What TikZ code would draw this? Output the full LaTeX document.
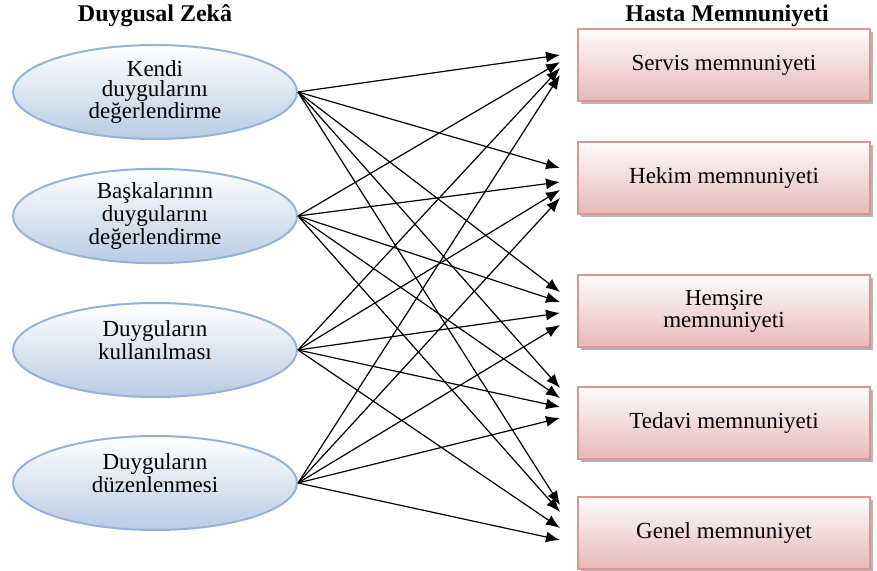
\documentclass[tikz,border=0pt]{standalone}
\usepackage{fontspec}
\setmainfont{Liberation Serif}
\usepackage{xcolor}
\usetikzlibrary{arrows.meta,calc,positioning,shapes.geometric,shadows}
\definecolor{elfill}{HTML}{B8CCE4}
\definecolor{eldraw}{HTML}{95B3D7}
\definecolor{bxfill}{HTML}{E6B9B8}
\definecolor{bxdraw}{HTML}{D99694}
\tikzset{%
	factor/.style   = {draw=eldraw, line width=1pt, ellipse, top color=white, bottom color=elfill, minimum width=142pt, minimum height=47pt, inner sep=0pt, align=center, font=\fontsize{11.5}{10}\selectfont}, % Duygusal zeka
	outcome/.style  = {draw=bxdraw, line width=1pt, rectangle, top color=white!95!bxfill, bottom color=bxfill, minimum width=146pt, minimum height=36pt, align=center, font=\fontsize{11.5}{10}\selectfont, drop shadow={shadow xshift=1.5pt, shadow yshift=-1.5pt, fill=black!40, opacity=.7}}, % Memnuniyet
	heading/.style  = {font=\bfseries\fontsize{12}{14}\selectfont}, % Title
	tip/.style      = {coordinate}, % Arrow end
	link/.style     = {line width=0.6pt, -{Latex[length=7pt,width=5.5pt]}},
}

\begin{document}
\begin{tikzpicture}[x=0.5pt, y=-0.5pt]
	\useasboundingbox (0,0) rectangle (877,571);
	\node[heading] (dz) at (155,16) {Duygusal Zekâ};
	\node[heading] (hm) at (727,16) {Hasta Memnuniyeti};
	\node[factor] (e1) at (155,92) {Kendi\\duygularını\\değerlendirme};
	\node[factor] (e2) at (155,216) {Başkalarının\\duygularını\\değerlendirme};
	\node[factor] (e3) at (155,350) {Duyguların\\kullanılması\\\mbox{}};
	\node[factor] (e4) at (155,483) {Duyguların\\düzenlenmesi\\\mbox{}};
	\node[outcome] (s1) at (724,65) {Servis memnuniyeti};
	\node[outcome] (s2) at (724,178) {Hekim memnuniyeti};
	\node[outcome] (s3) at (724,311) {Hemşire\\memnuniyeti};
	\node[outcome] (s4) at (724,423) {Tedavi memnuniyeti};
	\node[outcome] (s5) at (724,533) {Genel memnuniyet};
	\foreach \b/\ya/\yb/\yc/\yd in {s1/-10/-3/3/10, s2/-10/4/12/20, s3/-19/-9/2/14, s4/-35/-25/-16/-5, s5/-28/-21/-5/7}{
		\foreach \e/\y in {e1/\ya, e2/\yb, e3/\yc, e4/\yd}{
			\coordinate (\b-\e) at ($(\b.west)+(-17,\y)$);
			\draw[link] (\e.east) -- (\b-\e);
		}
	}
\end{tikzpicture}
\end{document}
